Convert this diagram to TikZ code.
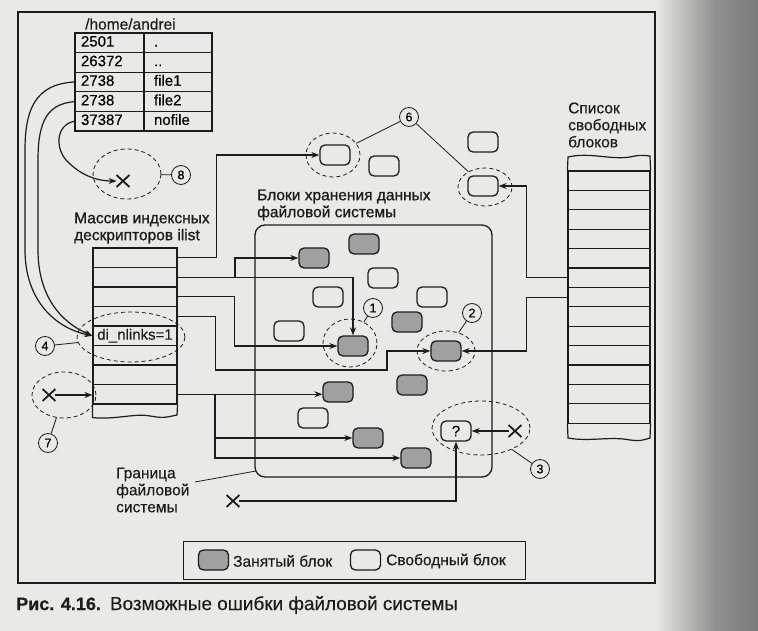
\documentclass[tikz,border=0pt]{standalone}
\usepackage{fontspec}
\setmainfont{Liberation Sans}[FakeBold=0.3]
\newfontfamily\headfont{Liberation Sans}[FakeBold=1.0]
\usetikzlibrary{arrows.meta,shapes.geometric,shapes.misc}
\definecolor{ink}{RGB}{28,28,28}
\definecolor{paper}{RGB}{233,233,231}
\definecolor{busyfill}{RGB}{160,160,160}
\tikzset{
  ln/.style={draw=ink, line width=1.2pt},
  arr/.style={ln, -{Stealth[length=8pt,width=6pt]}},
  blk/.style={draw=ink, line width=1.3pt, rounded corners=5pt, minimum width=30pt,
              minimum height=20pt, inner sep=0pt},
  busy/.style={blk, fill=busyfill},
  freeb/.style={blk, fill=paper},
  zone/.style={ellipse, draw=ink, dash pattern=on 4pt off 3pt, line width=0.8pt, inner sep=0pt},
  num/.style={circle, draw=ink, fill=paper, line width=0.8pt, minimum size=19pt, inner sep=0pt,
              font=\fontsize{12.5}{13}\selectfont},
  xm/.style={cross out, draw=ink, line width=1.8pt, minimum width=11pt, minimum height=10pt, inner sep=0pt},
  lbl/.style={font=\fontsize{15.5}{17}\selectfont, align=left, inner sep=0pt, text=ink},
  hlbl/.style={lbl, font=\headfont\fontsize{15.5}{17}\selectfont},
  irow/.style={draw=ink, line width=1.1pt, minimum width=84pt, minimum height=19.5pt, inner sep=0pt},
  frow/.style={draw=ink, line width=1.1pt, minimum width=82pt, minimum height=19.4pt, inner sep=0pt},
  numcell/.style={draw=ink, line width=1.1pt, text width=57pt, inner xsep=6pt, inner ysep=0pt,
                  text height=11pt, text depth=3.5pt,
                  minimum height=19.6pt, align=left, font=\fontsize{15}{17}\selectfont},
  namecell/.style={numcell, text width=48pt, inner xsep=10pt},
}
\begin{document}
\begin{tikzpicture}[x=1pt,y=-1pt]
\useasboundingbox (0,0) rectangle (758,631);
% paper and the shadow along the right side
\fill[paper] (0,0) rectangle (758,631);
\shade[left color=paper, right color=black!44] (655,0) rectangle (716,631);
\shade[left color=black!44, right color=black!52] (715.5,0) rectangle (758,631);
% outer frame
\draw[ink, line width=1.3pt] (18,12) rectangle (655,583);

% directory /home/andrei
\node[lbl, anchor=west] (dir) at (85,24) {/home/andrei};
\node[numcell] (t1) at (109.5,42.8) {2501};
\node[namecell] (n1) at (178,42.8) {.};
\node[numcell] (t2) at (109.5,62.4) {26372};
\node[namecell] (n2) at (178,62.4) {..};
\node[numcell] (t3) at (109.5,82.0) {2738};
\node[namecell] (n3) at (178,82.0) {file1};
\node[numcell] (t4) at (109.5,101.6) {2738};
\node[namecell] (n4) at (178,101.6) {file2};
\node[numcell] (t5) at (109.5,121.2) {37387};
\node[namecell] (n5) at (178,121.2) {nofile};

% inode array ilist
\node[hlbl, anchor=west] (illbl) at (74,228) {Массив индексных\\дескрипторов ilist};
\foreach \k in {1,...,8} {
  \node[irow] (il\k) at (135,{248+19.5*(\k-0.5)}) {};
}
\node[font=\fontsize{15}{17}\selectfont, text=ink, inner sep=0pt] at (il5) {di\_nlinks=1};
\draw[ln] (il8.south west) -- ++(0,13) .. controls (115,420) and (135,413) .. (150,416)
  .. controls (163,418) .. (177,415) -- (il8.south east);

% free block list
\node[lbl, anchor=west] (fllbl) at (568,125) {Список\\свободных\\блоков};
\foreach \k in {1,...,13} {
  \node[frow] (fl\k) at (609,{171+19.4*(\k-0.5)}) {};
}
\draw[ln] (fl1.north west) -- (568,157) .. controls (590,152) and (610,160) .. (630,157)
  .. controls (640,155) .. (650,156) -- (fl1.north east);
\draw[ln] (fl13.south west) -- (568,438) .. controls (590,442) and (610,436) .. (630,440)
  .. controls (640,441) .. (650,438) -- (fl13.south east);

% file system boundary
\node[hlbl, anchor=west] (fslbl) at (257,205) {Блоки хранения данных\\файловой системы};
\node[draw=ink, line width=1.3pt, rounded corners=10pt, minimum width=237pt, minimum height=252pt,
      inner sep=0pt] (fs) at (373.5,351) {};
\node[lbl, anchor=west] (gr) at (116,490) {Граница\\файловой\\системы};
\coordinate (grl) at (195,482);
\coordinate (fsc) at (256,471);
\draw[ink, line width=0.8pt] (grl) -- (fsc);

% blocks outside the file system
\node[freeb] (f6a) at (335,155) {};
\node[freeb] (fo1) at (384,166) {};
\node[freeb] (fo2) at (483,142) {};
\node[freeb] (f6b) at (483,186) {};

% blocks inside the file system
\node[busy]  (ba) at (314,258) {};
\node[busy]  (bb) at (364,244) {};
\node[freeb] (fc) at (383,278) {};
\node[freeb] (fd) at (328,297) {};
\node[freeb] (fe) at (432,297) {};
\node[busy]  (bf) at (407,322) {};
\node[freeb] (fg) at (289,331) {};
\node[busy]  (b1) at (353,346) {};
\node[busy]  (b2) at (446,351) {};
\node[busy]  (bh) at (338,392) {};
\node[busy]  (bi) at (412,385) {};
\node[freeb] (fj) at (313,418) {};
\node[busy]  (bk) at (368,438) {};
\node[freeb, font=\fontsize{15}{17}\selectfont] (q) at (456,431) {?};
\node[busy]  (bl) at (416,458) {};

% X marks
\node[xm] (x8) at (123,181) {};
\node[xm] (x7) at (49,395) {};
\node[xm] (x3) at (515,431) {};
\node[xm] (xb) at (233,501) {};

% directory entries to inodes
\draw[arr] (t3.west) .. controls (35,84) and (25,110) .. (25,150) -- (25,250)
  .. controls (25,300) and (55,328) .. (il5.west);
\draw[arr] (t4.west) .. controls (48,104) and (38,120) .. (38,160) -- (38,250)
  .. controls (38,295) and (60,322) .. (il5.west);
\draw[arr] (t5.west) .. controls (55,125) and (55,150) .. (68,162)
  .. controls (80,174) and (95,181) .. (x8);
\draw[arr] (x7) -- (x7 -| il8.west);

% inodes to data blocks
\draw[arr] (il1.east) -- ++(39,0) |- (f6a.west);
\draw[arr] (il2.east) -| (b1.north);
\coordinate (j2) at (235,277.25);
\draw[arr] (j2) |- (ba.west);
\draw[arr] (il3.east) -- ++(57,0) |- (b1.west);
\coordinate (k4) at (387,370);
\draw[arr] (il4.east) -- ++(38,0) |- (k4) |- (b2.west);
\coordinate (j8) at (215,394.25);
\draw[arr] (il8.east) -- (bh.west |- il8.east);
\draw[arr] (j8) |- (bk.west);
\draw[arr] (j8) |- (bl.west);

% free list to blocks
\draw[arr] (fl6.west) -- ++(-41,0) |- (f6b.east);
\draw[arr] (fl7.west) -- ++(-41,0) |- (b2.east);

% unknown block
\draw[arr] (x3) -- (q);
\draw[arr] (xb) -| (q.south);

% error zones and their numbers
\node[zone, minimum width=68pt, minimum height=50pt] (e8) at (127,174) {};
\node[zone, minimum width=108pt, minimum height=50pt] (e4) at (131,337) {};
\node[zone, minimum width=64pt, minimum height=46pt] (e7) at (64,395) {};
\node[zone, minimum width=54pt, minimum height=44pt] (e6a) at (333,155) {};
\node[zone, minimum width=54pt, minimum height=38pt] (e6b) at (485,187) {};
\node[zone, minimum width=54pt, minimum height=48pt] (e1) at (350,343) {};
\node[zone, minimum width=58pt, minimum height=40pt] (e2) at (446,351) {};
\node[zone, minimum width=98pt, minimum height=54pt] (e3) at (481,428) {};

\node[num] (c8) at (181,175) {8};
\node[num] (c4) at (45,346) {4};
\node[num] (c7) at (48,443) {7};
\node[num] (c6) at (409,117) {6};
\node[num] (c1) at (373,308) {1};
\node[num] (c2) at (472,313) {2};
\node[num] (c3) at (540,469) {3};
\draw[ink, line width=0.8pt] (c8) -- (e8);
\draw[ink, line width=0.8pt] (c4) -- (e4);
\draw[ink, line width=0.8pt] (c7) -- (e7);
\draw[ink, line width=0.8pt] (c6) -- (e6a);
\draw[ink, line width=0.8pt] (c6) -- (e6b);
\draw[ink, line width=0.8pt] (c1) -- (e1);
\draw[ink, line width=0.8pt] (c2) -- (e2);
\draw[ink, line width=0.8pt] (c3) -- (e3);

% legend
\node[draw=ink, line width=1pt, minimum width=342pt, minimum height=38pt, inner sep=0pt] (leg) at (354,560) {};
\node[busy] (lb) at (213.5,560) {};
\node[lbl, anchor=west] (lbt) at (233,561) {Занятый блок};
\node[freeb] (lf) at (365.5,560) {};
\node[lbl, anchor=west] (lft) at (386,561) {Свободный блок};

% caption
\node[anchor=west, inner sep=0pt, text=ink, font=\fontsize{18}{20}\selectfont] (cap) at (16,605)
  {\textbf{Рис. 4.16.}\hspace{9pt}{\fontsize{18.9}{20}\selectfont Возможные ошибки файловой системы}};
\end{tikzpicture}
\end{document}
